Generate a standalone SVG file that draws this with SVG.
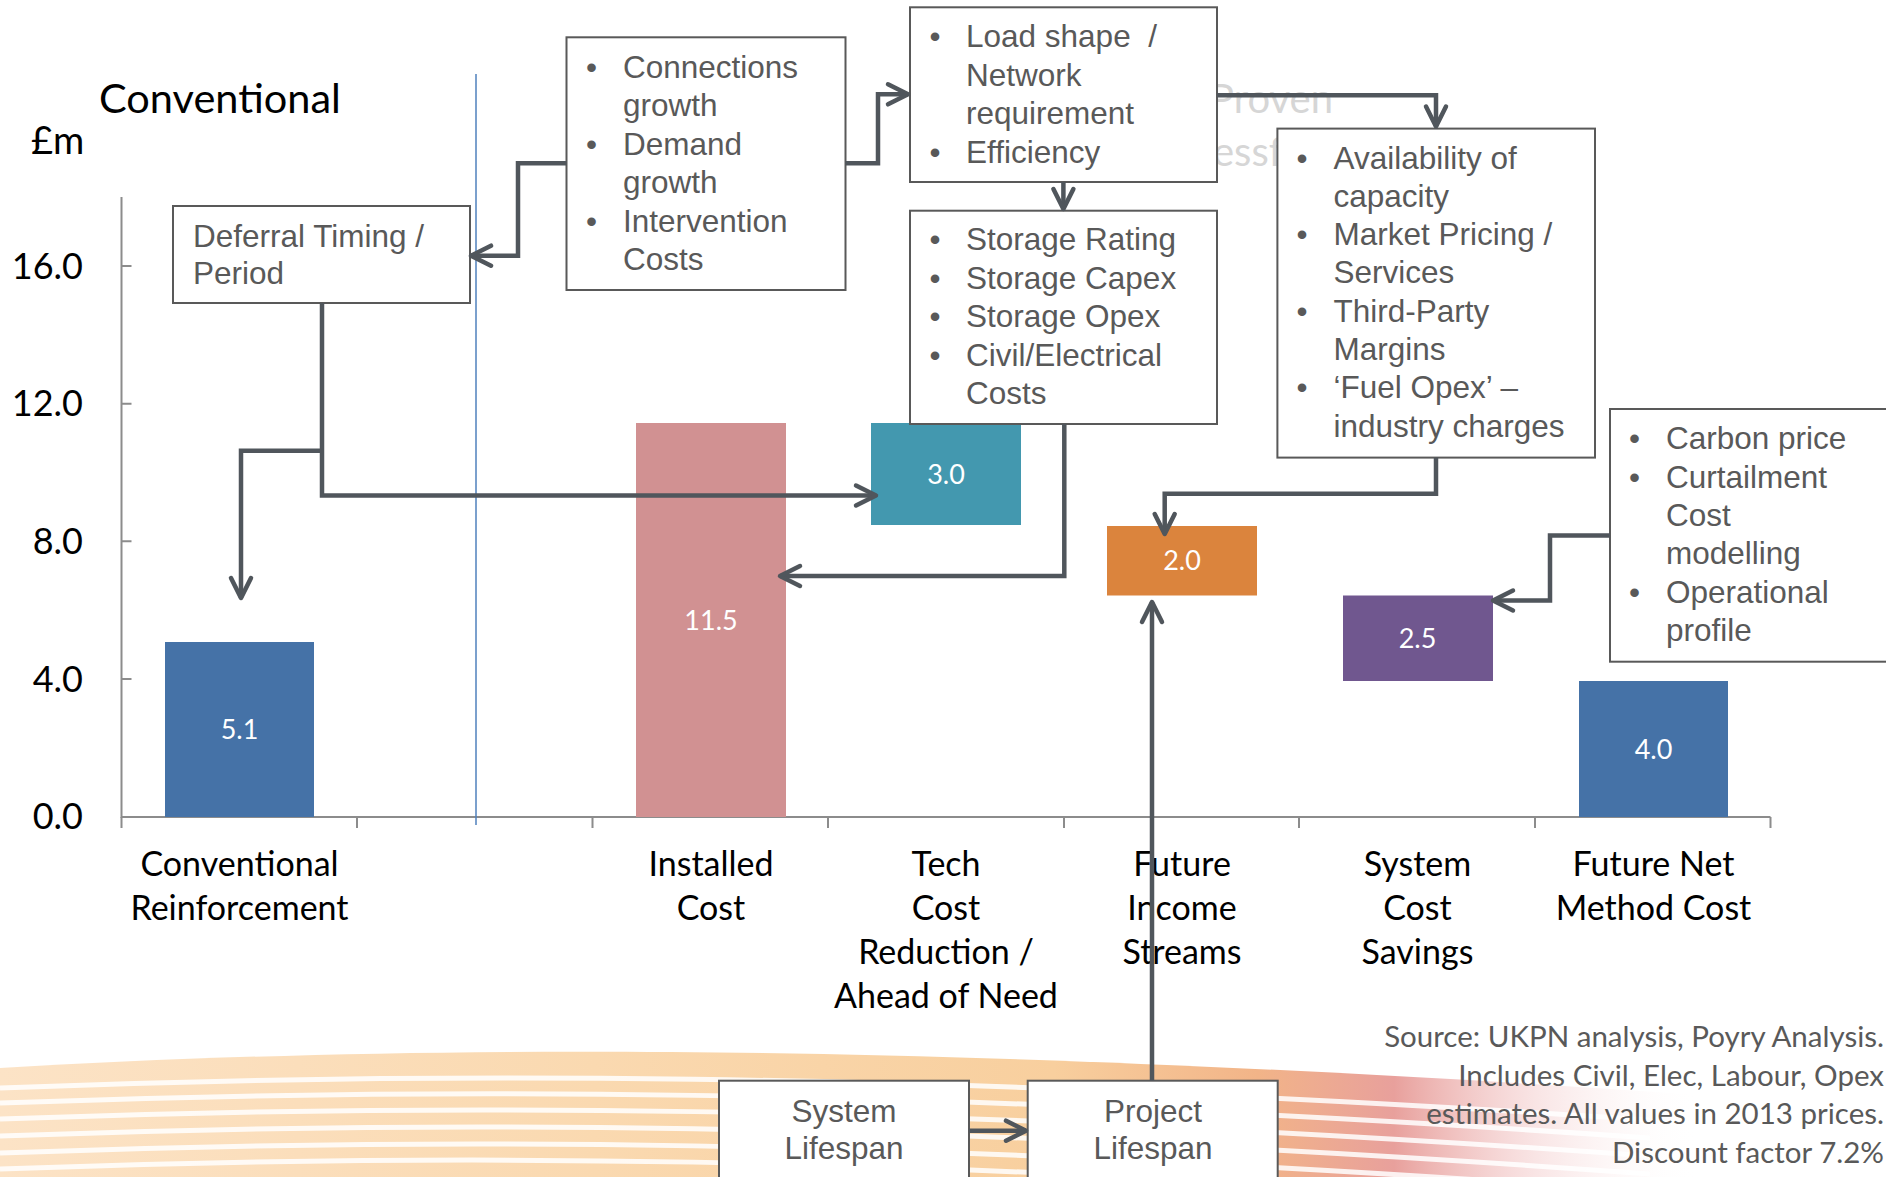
<svg xmlns="http://www.w3.org/2000/svg" width="1886" height="1177" viewBox="0 0 1886 1177">
<style>
.box{fill:#fff;stroke:#595959;stroke-width:2}
.bt{font-family:"Liberation Sans",Arial,sans-serif;font-size:31.5px;fill:#595959}
.btc{font-family:"Liberation Sans",Arial,sans-serif;font-size:31.5px;fill:#595959;text-anchor:middle}
.ax{font-family:Lato,"Open Sans",sans-serif;font-size:36px;fill:#000;text-anchor:end}
.cat{font-family:Lato,"Open Sans",sans-serif;font-size:34px;fill:#000;text-anchor:middle}
.val{font-family:Lato,"Open Sans",sans-serif;font-size:27px;fill:#fff;text-anchor:middle}
.src{font-family:Lato,"Open Sans",sans-serif;font-size:29.5px;fill:#595959;text-anchor:end}
.ghost{font-family:Lato,"Open Sans",sans-serif;font-size:40px;fill:#D6D6D6}
.axis{stroke:#8C8C8C;stroke-width:2;fill:none}
.conn{fill:none;stroke:#50565C;stroke-width:4.5;marker-end:url(#arr)}
.stripe{fill:none;stroke:#fff;stroke-width:5;opacity:0.85}
</style>
<defs>
<marker id="arr" markerUnits="userSpaceOnUse" markerWidth="32" markerHeight="32" viewBox="-26 -16 32 32" refX="0" refY="0" orient="auto">
<path d="M-20,-10 L0,0 L-20,10" fill="none" stroke="#50565C" stroke-width="4.5" stroke-linecap="round" stroke-linejoin="round"/>
</marker>
<linearGradient id="bandG" x1="0" y1="0" x2="1" y2="0">
<stop offset="0" stop-color="#FCE3C6"/>
<stop offset="0.35" stop-color="#FAD9B0"/>
<stop offset="0.62" stop-color="#F8CF9E"/>
<stop offset="0.74" stop-color="#F2B488"/>
<stop offset="0.82" stop-color="#E8A09C"/>
<stop offset="0.9" stop-color="#F2C6C6" stop-opacity="0.5"/>
<stop offset="1" stop-color="#FFFFFF" stop-opacity="0"/>
</linearGradient>
<linearGradient id="fadeG" x1="0" y1="0" x2="0" y2="1">
<stop offset="0" stop-color="#FFFFFF" stop-opacity="1"/>
<stop offset="1" stop-color="#FFFFFF" stop-opacity="0"/>
</linearGradient>
</defs>
<rect width="1886" height="1177" fill="#fff"/>

<g id="background-band">
<path d="M0,1068 C400,1045 900,1040 1700,1095 L1700,1177 L0,1177 Z" fill="url(#bandG)"/>
<path d="M0,1062 C400,1040 900,1035 1700,1090 L1700,1080 C900,1028 400,1033 0,1055 Z" fill="url(#fadeG)" opacity="0.6"/>
<path class="stripe" d="M0,1088 C400,1072 900,1070 1650,1120"/>
<path class="stripe" d="M0,1103 C400,1088 900,1086 1650,1138"/>
<path class="stripe" d="M0,1119 C400,1104 900,1102 1650,1156"/>
<path class="stripe" d="M0,1136 C400,1121 900,1119 1650,1174"/>
<path class="stripe" d="M0,1153 C400,1138 900,1136 1650,1192"/>
<path class="stripe" d="M0,1169 C400,1154 900,1152 1650,1210"/>
</g>

<g id="chart-axes">
<text x="99" y="113" style="font-family:Lato,'Open Sans',sans-serif;font-size:41.5px;fill:#000">Conventional</text>
<text x="31" y="154" style="font-family:Lato,'Open Sans',sans-serif;font-size:38px;fill:#000">£m</text>
<path class="axis" d="M121.5,197 V817 H1770.5"/>
<path class="axis" d="M121.5,266 H131.5 M121.5,403.7 H131.5 M121.5,541.3 H131.5 M121.5,679 H131.5"/>
<path class="axis" d="M121.5,817 V828 M357,817 V828 M592.5,817 V828 M828,817 V828 M1064,817 V828 M1299,817 V828 M1535,817 V828 M1770.5,817 V828"/>
<text class="ax" x="83" y="278.5">16.0</text>
<text class="ax" x="83" y="416">12.0</text>
<text class="ax" x="83" y="554">8.0</text>
<text class="ax" x="83" y="691.5">4.0</text>
<text class="ax" x="83" y="829">0.0</text>
<text class="cat" x="239.5" y="876">Conventional</text>
<text class="cat" x="239.5" y="920">Reinforcement</text>
<text class="cat" x="711" y="876">Installed</text>
<text class="cat" x="711" y="920">Cost</text>
<text class="cat" x="946" y="876">Tech</text>
<text class="cat" x="946" y="920">Cost</text>
<text class="cat" x="946" y="964">Reduction /</text>
<text class="cat" x="946" y="1008">Ahead of Need</text>
<text class="cat" x="1182" y="876">Future</text>
<text class="cat" x="1182" y="920">Income</text>
<text class="cat" x="1182" y="964">Streams</text>
<text class="cat" x="1417.5" y="876">System</text>
<text class="cat" x="1417.5" y="920">Cost</text>
<text class="cat" x="1417.5" y="964">Savings</text>
<text class="cat" x="1653.5" y="876">Future Net</text>
<text class="cat" x="1653.5" y="920">Method Cost</text>
<line x1="476" y1="74" x2="476" y2="825" stroke="#4F81BD" stroke-width="1.5"/>
</g>

<g id="bar-conventional"><rect x="165" y="642" width="149" height="175" fill="#4572A7"/><text class="val" x="239.5" y="739">5.1</text></g>
<g id="bar-installed"><rect x="636" y="423" width="150" height="394" fill="#D19192"/><text class="val" x="711" y="630">11.5</text></g>
<g id="bar-tech"><rect x="871" y="423" width="150" height="102" fill="#4398AF"/><text class="val" x="946" y="484">3.0</text></g>
<g id="bar-income"><rect x="1107" y="526" width="150" height="69.5" fill="#DB843D"/><text class="val" x="1182" y="570">2.0</text></g>
<g id="bar-system"><rect x="1343" y="595.5" width="150" height="85.5" fill="#70578F"/><text class="val" x="1417.5" y="648">2.5</text></g>
<g id="bar-futurenet"><rect x="1579" y="681" width="149" height="136" fill="#4572A7"/><text class="val" x="1653.5" y="759">4.0</text></g>

<g id="ghost-text">
<text class="ghost" x="1210" y="113">Proven</text>
<text class="ghost" x="1213" y="166">essf</text>
</g>

<g id="node-deferral">
<rect class="box" x="173" y="206" width="297" height="97"/>
<text class="bt" x="193" y="247">Deferral Timing /</text>
<text class="bt" x="193" y="284">Period</text>
</g>

<g id="node-connections">
<rect class="box" x="566.5" y="37.3" width="279" height="252.7"/>
<text class="bt" x="586" y="77.7">•</text><text class="bt" x="623" y="77.7">Connections</text>
<text class="bt" x="623" y="116.2">growth</text>
<text class="bt" x="586" y="154.7">•</text><text class="bt" x="623" y="154.7">Demand</text>
<text class="bt" x="623" y="193.2">growth</text>
<text class="bt" x="586" y="231.7">•</text><text class="bt" x="623" y="231.7">Intervention</text>
<text class="bt" x="623" y="270">Costs</text>
</g>

<g id="node-loadshape">
<rect class="box" x="910" y="7.3" width="307" height="174.7"/>
<text class="bt" x="929.5" y="47">•</text><text class="bt" x="966" y="47" xml:space="preserve">Load shape  /</text>
<text class="bt" x="966" y="85.5">Network</text>
<text class="bt" x="966" y="124">requirement</text>
<text class="bt" x="929.5" y="162.5">•</text><text class="bt" x="966" y="162.5">Efficiency</text>
</g>

<g id="node-storage">
<rect class="box" x="910" y="210.7" width="307" height="213.3"/>
<text class="bt" x="929.5" y="250">•</text><text class="bt" x="966" y="250">Storage Rating</text>
<text class="bt" x="929.5" y="288.5">•</text><text class="bt" x="966" y="288.5">Storage Capex</text>
<text class="bt" x="929.5" y="327">•</text><text class="bt" x="966" y="327">Storage Opex</text>
<text class="bt" x="929.5" y="365.5">•</text><text class="bt" x="966" y="365.5">Civil/Electrical</text>
<text class="bt" x="966" y="404">Costs</text>
</g>

<g id="node-availability">
<rect class="box" x="1277.4" y="128.6" width="317.6" height="329"/>
<text class="bt" x="1296.5" y="168.5">•</text><text class="bt" x="1333.5" y="168.5">Availability of</text>
<text class="bt" x="1333.5" y="206.8">capacity</text>
<text class="bt" x="1296.5" y="245.1">•</text><text class="bt" x="1333.5" y="245.1">Market Pricing /</text>
<text class="bt" x="1333.5" y="283.4">Services</text>
<text class="bt" x="1296.5" y="321.7">•</text><text class="bt" x="1333.5" y="321.7">Third-Party</text>
<text class="bt" x="1333.5" y="360">Margins</text>
<text class="bt" x="1296.5" y="398.3">•</text><text class="bt" x="1333.5" y="398.3">‘Fuel Opex’ –</text>
<text class="bt" x="1333.5" y="436.6">industry charges</text>
</g>

<g id="node-carbon">
<rect class="box" x="1610" y="409" width="300" height="252.7"/>
<text class="bt" x="1629" y="449.3">•</text><text class="bt" x="1666" y="449.3">Carbon price</text>
<text class="bt" x="1629" y="487.6">•</text><text class="bt" x="1666" y="487.6">Curtailment</text>
<text class="bt" x="1666" y="525.9">Cost</text>
<text class="bt" x="1666" y="564.2">modelling</text>
<text class="bt" x="1629" y="602.5">•</text><text class="bt" x="1666" y="602.5">Operational</text>
<text class="bt" x="1666" y="640.8">profile</text>
</g>

<g id="node-system-lifespan">
<rect class="box" x="719" y="1080.7" width="250" height="120"/>
<text class="btc" x="844" y="1121.7">System</text>
<text class="btc" x="844" y="1159">Lifespan</text>
</g>

<g id="node-project-lifespan">
<rect class="box" x="1027.7" y="1080.7" width="250" height="120"/>
<text class="btc" x="1153" y="1121.7">Project</text>
<text class="btc" x="1153" y="1159">Lifespan</text>
</g>

<g id="source-note">
<text class="src" x="1884" y="1047">Source: UKPN analysis, Poyry Analysis.</text>
<text class="src" x="1884" y="1085.5">Includes Civil, Elec, Labour, Opex</text>
<text class="src" x="1884" y="1124">estimates. All values in 2013 prices.</text>
<text class="src" x="1884" y="1162.5">Discount factor 7.2%</text>
</g>

<g id="connectors">
<path class="conn" d="M566.5,163.3 H518 V255.7 H471"/>
<path class="conn" d="M845.5,163.3 H878 V94.3 H908"/>
<path class="conn" d="M1063.4,182 V209"/>
<path class="conn" d="M1217,95.3 H1436 V126.5"/>
<path class="conn" d="M322,303 V495.5 H876"/>
<path class="conn" d="M322,450.7 H241 V598"/>
<path class="conn" d="M1064.3,424 V576 H780"/>
<path class="conn" d="M1436,457.6 V493.7 H1164.7 V534"/>
<path class="conn" d="M1610,535.4 H1550 V600.5 H1493"/>
<path class="conn" d="M1152,1080.7 V602"/>
<path class="conn" d="M969,1130.7 H1026"/>
</g>
</svg>
